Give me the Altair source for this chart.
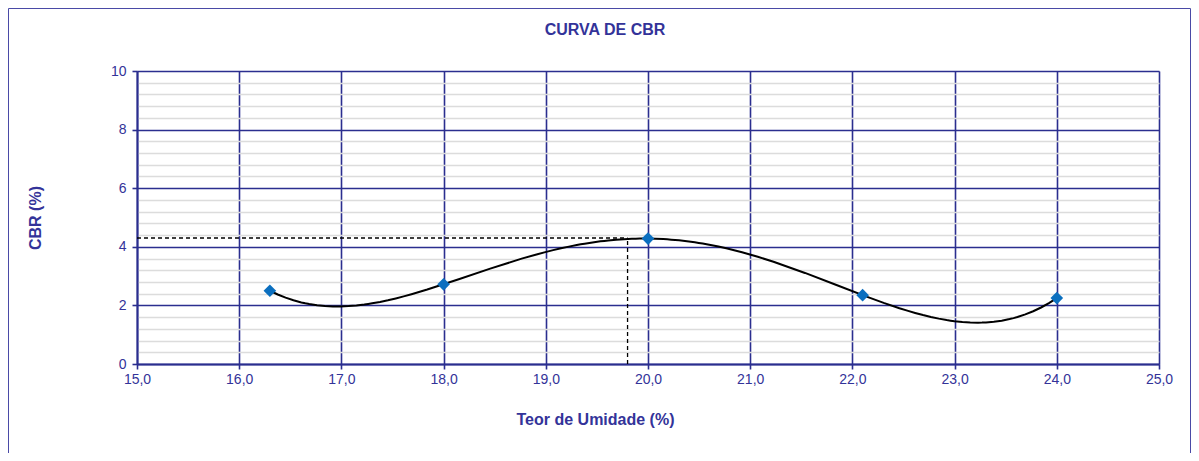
import altair as alt
import pandas as pd

# ---- data ----
umidade = [16.3, 18.0, 20.0, 22.1, 24.0]
cbr = [2.5, 2.72, 4.28, 2.35, 2.25]
pico_umidade = [19.8]
pico_cbr = [4.3]
x_ticks = [15, 16, 17, 18, 19, 20, 21, 22, 23, 24, 25]
y_ticks = [0, 0.4, 0.8, 1.2, 1.6, 2, 2.4, 2.8, 3.2, 3.6, 4, 4.4, 4.8, 5.2, 5.6,
           6, 6.4, 6.8, 7.2, 7.6, 8, 8.4, 8.8, 9.2, 9.6, 10]

NAVY = "#2b2e8f"
TEXT = "#333399"
GREY = "#dcdcdc"
FONT = "Liberation Sans"

df = pd.DataFrame({"umidade": umidade, "cbr": cbr})
peak = pd.DataFrame({"x0": [x_ticks[0]] * len(pico_umidade), "y0": [y_ticks[0]] * len(pico_cbr),
                     "px": pico_umidade, "py": pico_cbr})

xs = alt.Scale(domain=[x_ticks[0], x_ticks[-1]], nice=False, zero=False)
ys = alt.Scale(domain=[y_ticks[0], y_ticks[-1]], nice=False, zero=False)

xaxis = alt.Axis(
    values=x_ticks, tickCount=len(x_ticks),
    labelExpr="replace(format(datum.value, '.1f'), '.', ',')",
    title="Teor de Umidade (%)",
    titleX=458, titleY=47, titleAnchor="middle",
    titleFont=FONT, titleFontSize=16, titleFontWeight="bold", titleColor=TEXT,
    labelFont=FONT, labelFontSize=14, labelColor=TEXT, labelPadding=3,
    grid=True, gridColor=NAVY, gridWidth=1.6, gridOpacity=1,
    domainColor=NAVY, domainWidth=2, tickColor=NAVY, tickSize=5, tickWidth=1.6,
    labelFlush=False, labelOverlap=False,
)

yaxis = alt.Axis(
    values=y_ticks, tickCount=len(y_ticks),
    labelExpr="datum.value % 2 === 0 ? format(datum.value, 'd') : ''",
    title="CBR (%)",
    titleX=-94, titleY=146.5, titleAnchor="middle", titleAngle=270,
    titleFont=FONT, titleFontSize=16, titleFontWeight="bold", titleColor=TEXT,
    labelFont=FONT, labelFontSize=14, labelColor=TEXT, labelPadding=6,
    grid=True,
    gridColor={"condition": {"test": "datum.value % 2 === 0", "value": NAVY}, "value": GREY},
    gridWidth={"condition": {"test": "datum.value % 2 === 0", "value": 1.6}, "value": 1.3},
    gridOpacity=1,
    domainColor=NAVY, domainWidth=2, tickColor=NAVY, tickSize=5, tickWidth=1.6,
    tickOpacity={"condition": {"test": "datum.value % 2 === 0", "value": 1}, "value": 0},
    labelFlush=False, labelOverlap=False,
)

base = alt.Chart(df)

curve = base.transform_regression(
    "umidade", "cbr", method="poly", order=4, extent=[min(umidade), max(umidade)]
).mark_line(color="black", strokeWidth=2).encode(
    x=alt.X("umidade:Q", scale=xs, axis=xaxis),
    y=alt.Y("cbr:Q", scale=ys, axis=yaxis),
)

points = base.mark_point(shape="diamond", filled=True, size=160, color="#0b6fbf", opacity=1).encode(
    x=alt.X("umidade:Q", scale=xs),
    y=alt.Y("cbr:Q", scale=ys),
)

h_rule = alt.Chart(peak).mark_rule(color="black", strokeWidth=1.3, strokeDash=[4, 3]).encode(
    x=alt.X("x0:Q", scale=xs), x2="px:Q", y=alt.Y("py:Q", scale=ys)
)
v_rule = alt.Chart(peak).mark_rule(color="black", strokeWidth=1.3, strokeDash=[4, 3]).encode(
    x=alt.X("px:Q", scale=xs), y=alt.Y("y0:Q", scale=ys), y2="py:Q"
)

frame = alt.Chart(pd.DataFrame({"a": [0]})).mark_rect(
    fillOpacity=0, stroke="#4a4aa6", strokeWidth=1
).encode(
    x=alt.value(-128.5), x2=alt.value(1053.5), y=alt.value(-62.5), y2=alt.value(420)
)

chart = alt.layer(frame, h_rule, v_rule, curve, points).properties(
    width=1022,
    height=293,
    padding={"left": 129, "top": 63, "right": 32, "bottom": 89},
    autosize=alt.AutoSizeParams(type="none"),
    title=alt.TitleParams(
        "CURVA DE CBR", anchor="middle", dx=-43, offset=-30,
        font=FONT, fontSize=16, fontWeight="bold", color=TEXT,
    ),
).configure_view(stroke=None).configure(background="white")

chart.save("out.html", embed_options={"renderer": "svg", "actions": False})
